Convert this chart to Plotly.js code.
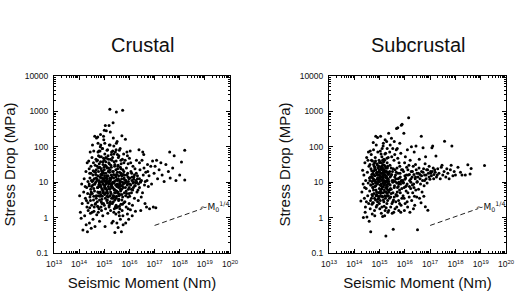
<!DOCTYPE html>
<html>
<head>
<meta charset="utf-8">
<script src="https://cdn.plot.ly/plotly-3.0.1.min.js"></script>
<style>
  html, body { margin: 0; padding: 0; background: #fff; }
  #chart { width: 516px; height: 298px; }
</style>
</head>
<body>
<div id="chart"></div>
<script>
// Earthquake source parameters: log10 of seismic moment (N·m) and log10 of stress drop (MPa)
const crustalLogMoment = [
  14.02,14.05,14.08,14.10,14.12,14.15,14.18,14.20,14.22,14.25,
  14.27,14.28,14.30,14.31,14.32,14.33,14.34,14.35,14.29,14.24,
  14.36,14.38,14.40,14.41,14.42,14.43,14.44,14.45,14.46,14.47,
  14.48,14.49,14.50,14.51,14.52,14.53,14.54,14.55,14.56,14.57,
  14.58,14.59,14.60,14.61,14.62,14.63,14.64,14.65,14.66,14.67,
  14.68,14.69,14.70,14.62,14.55,14.48,14.40,14.45,14.58,14.66,
  14.52,14.60,14.43,14.68,14.57,
  14.71,14.72,14.73,14.74,14.75,14.76,14.77,14.78,14.79,14.80,
  14.81,14.82,14.83,14.84,14.85,14.86,14.87,14.88,14.89,14.90,
  14.91,14.92,14.93,14.94,14.95,14.96,14.97,14.98,14.99,15.00,
  15.01,15.02,15.03,15.04,15.05,15.06,15.07,15.08,15.09,15.10,
  15.11,15.12,15.13,15.14,15.15,15.16,15.17,15.18,15.19,15.20,
  15.21,15.22,15.23,15.24,15.25,15.26,15.27,15.28,15.29,15.30,
  14.74,14.78,14.82,14.86,14.90,14.94,14.98,15.02,15.06,15.10,
  15.14,15.18,15.22,15.26,15.30,14.76,14.80,14.84,14.88,14.92,
  14.96,15.00,15.04,15.08,15.12,15.16,15.20,15.24,15.28,14.73,
  14.77,14.81,14.85,14.89,14.93,14.97,15.01,15.05,15.09,15.13,
  15.17,15.21,15.25,15.29,14.72,14.79,14.83,14.87,14.91,14.95,
  14.99,15.03,15.07,15.11,15.15,15.19,15.23,15.27,14.86,14.97,
  15.22,15.48,15.73,15.35,15.04,15.00,15.24,14.74,15.70,15.84,
  15.31,15.32,15.33,15.34,15.35,15.36,15.37,15.38,15.39,15.40,
  15.41,15.42,15.43,15.44,15.45,15.46,15.47,15.48,15.49,15.50,
  15.51,15.52,15.53,15.54,15.55,15.56,15.57,15.58,15.59,15.60,
  15.61,15.62,15.63,15.64,15.65,15.66,15.67,15.68,15.69,15.70,
  15.71,15.72,15.73,15.74,15.75,15.76,15.77,15.78,15.79,15.80,
  15.33,15.37,15.41,15.45,15.49,15.53,15.57,15.61,15.65,15.69,
  15.35,15.39,15.43,15.47,15.51,15.55,15.59,15.63,15.67,15.71,
  15.34,15.40,15.46,15.52,15.58,15.64,15.70,15.76,15.42,15.56,
  15.38,15.44,15.50,15.62,15.74,15.66,15.48,15.36,15.60,15.78,
  15.81,15.82,15.83,15.84,15.85,15.86,15.87,15.88,15.89,15.90,
  15.91,15.92,15.93,15.94,15.95,15.96,15.97,15.98,15.99,16.00,
  16.02,16.04,16.06,16.08,16.10,16.12,16.14,16.16,16.18,16.20,
  16.22,16.24,16.26,16.28,16.30,15.88,15.94,16.01,16.09,16.17,
  15.85,15.92,15.99,16.05,16.13,16.21,16.27,16.03,15.95,16.11,
  16.32,16.35,16.38,16.40,16.42,16.45,16.48,16.50,16.52,16.55,
  16.58,16.60,16.62,16.65,16.68,16.70,16.72,16.75,16.78,16.80,
  16.34,16.44,16.53,16.63,16.73,16.85,16.88,16.47,16.57,16.40,
  16.92,16.98,17.02,17.08,17.12,17.18,17.25,17.30,17.38,17.45,
  17.55,17.62,17.72,17.78,17.85,18.00,18.07,18.20,18.20,16.95,
  17.05,17.60,
  14.62,14.65,14.68,14.71,14.74,14.77,14.80,14.83,14.86,14.89,
  14.92,14.95,14.98,15.01,15.04,15.07,15.10,15.13,15.16,15.19,
  15.22,15.25,15.28,15.31,15.34,15.37,15.40,15.43,15.46,15.49,
  15.52,15.55,15.58,15.61,15.64,15.67,15.70,15.73,15.76,15.79,
  14.64,14.70,14.76,14.82,14.88,14.94,15.00,15.06,15.12,15.18,
  15.24,15.30,15.36,15.42,15.48,15.54,15.60,15.66,15.72,15.78,
  14.67,14.73,14.79,14.85,14.91,14.97,15.03,15.09,15.15,15.21,
  15.27,15.33,15.39,15.45,15.51,15.57,15.63,15.69,15.75,15.81,
  15.84,15.87,15.90,15.93,15.96,15.99,16.02,16.05,16.08,16.11,
  16.14,16.17,16.20,16.23,16.26,16.29,16.32,16.36,16.40,16.44,
  14.75,14.84,14.93,15.02,15.11,15.20,15.29,15.38,15.47,15.56,
  14.50,14.55,14.60,14.45,14.40,14.35,14.52,14.58,14.47,14.42
];
const crustalLogStress = [
  0.62,0.15,-0.02,0.95,0.40,-0.35,0.72,1.10,0.05,0.55,
  1.30,-0.20,0.85,0.30,1.55,-0.40,0.68,1.02,0.48,0.88,
  0.20,1.60,0.95,-0.15,1.25,0.58,1.85,0.12,0.80,1.45,
  -0.30,1.05,0.35,1.70,0.68,2.05,0.92,-0.05,1.32,0.50,
  1.88,0.18,1.10,0.75,2.30,-0.25,1.48,0.40,1.00,1.65,
  0.62,2.25,0.08,0.95,1.20,0.72,1.38,0.48,0.82,1.22,
  1.02,0.30,1.12,1.35,1.55,
  1.05,0.45,1.62,0.85,2.10,0.15,1.30,0.70,1.88,0.98,
  -0.10,1.42,0.60,1.15,2.35,0.88,0.30,1.72,1.02,0.52,
  1.25,1.95,0.78,0.05,1.50,1.08,0.40,2.20,0.92,1.35,
  0.65,1.80,-0.25,1.12,0.25,1.58,0.82,2.45,1.00,0.48,
  1.40,0.72,1.92,0.12,1.18,0.58,1.65,0.95,2.60,0.35,
  1.28,0.80,2.05,1.05,0.20,1.48,0.68,1.78,0.90,-0.15,
  1.18,0.92,1.00,1.22,0.82,1.30,1.05,0.90,1.25,0.78,
  1.02,1.32,0.62,1.10,0.85,0.62,1.52,0.72,1.38,0.60,
  0.75,1.62,0.55,1.45,1.10,0.88,1.52,0.45,1.20,0.32,
  1.75,0.50,1.58,0.20,1.12,1.68,1.18,0.70,1.68,0.42,
  1.40,0.98,1.65,0.55,1.45,0.25,1.88,1.12,0.40,0.95,
  1.42,0.82,1.05,0.60,1.75,0.30,1.35,0.95,2.05,2.30,
  3.06,2.98,3.03,2.68,2.60,2.47,2.42,2.28,2.31,2.21,
  1.15,0.40,1.70,0.85,-0.10,1.30,0.62,2.02,0.98,0.25,
  1.45,-0.42,0.78,1.85,1.05,0.10,1.60,0.55,1.22,0.88,
  2.15,0.30,1.38,0.72,-0.28,1.10,0.48,1.75,0.92,0.05,
  1.28,0.65,1.95,-0.05,1.02,0.38,1.52,-0.40,0.80,1.18,
  0.20,1.65,0.58,1.35,-0.20,0.95,1.80,0.42,1.08,0.70,
  1.00,1.12,0.70,0.92,0.60,1.05,0.85,0.98,0.75,1.10,
  0.55,1.58,1.20,0.35,0.95,1.48,0.62,0.88,1.25,0.90,
  1.88,0.78,1.35,1.78,0.15,1.42,0.50,1.20,0.50,0.68,
  0.15,0.30,-0.15,0.25,0.05,1.62,2.10,2.25,1.90,1.55,
  1.20,0.45,1.62,0.85,-0.15,1.05,0.30,1.40,0.68,1.85,
  0.92,0.10,1.25,0.58,1.52,0.80,-0.05,1.10,0.40,1.68,
  0.95,0.22,1.30,0.70,1.05,0.35,1.45,0.85,1.15,0.55,
  1.38,0.18,0.98,1.62,0.72,1.00,1.15,0.60,1.25,1.00,
  0.62,1.75,0.85,1.55,0.78,0.90,1.25,1.88,0.25,0.05,
  1.10,0.48,1.92,0.85,1.35,0.20,1.05,1.62,0.70,1.20,
  1.40,0.92,0.40,1.28,0.30,1.05,1.50,0.88,1.18,0.25,
  0.78,1.00,1.85,1.02,1.30,1.45,0.95,0.58,1.78,1.55,
  1.60,1.25,1.45,1.62,1.10,1.35,1.55,1.20,1.02,1.50,
  1.30,1.12,1.40,1.75,1.05,1.20,1.57,1.90,1.06,0.30,
  0.28,1.85,
  0.95,1.28,0.55,1.10,0.72,1.40,0.88,1.15,0.65,1.32,
  1.00,0.70,1.25,0.85,1.48,0.95,1.18,0.68,1.30,0.82,
  1.12,0.72,1.42,0.95,0.62,1.22,1.02,0.58,1.15,0.75,
  1.28,0.90,0.52,1.05,0.80,1.20,0.65,1.00,0.85,1.12,
  0.38,1.60,0.30,1.72,0.45,1.58,0.35,1.70,0.50,1.55,
  0.40,1.62,0.45,1.50,0.28,1.45,0.32,1.38,0.38,1.30,
  1.12,0.85,1.05,0.92,1.20,1.10,1.02,1.12,0.98,1.05,
  0.88,1.30,0.80,0.70,1.08,1.18,0.95,0.90,1.22,0.98,
  1.05,0.75,1.20,0.95,1.02,0.68,1.12,0.92,0.80,1.15,
  0.98,1.08,1.20,0.90,1.05,1.00,1.18,0.95,1.10,1.02,
  1.85,2.00,1.95,2.10,1.90,2.05,1.85,1.80,1.92,1.70,
  0.88,1.05,1.30,0.65,0.90,0.42,0.15,0.60,1.25,0.28
];

const subcrustalLogMoment = [
  14.26,14.30,14.33,14.35,14.38,14.40,14.42,14.44,14.45,14.47,
  14.49,14.50,14.52,14.53,14.55,14.56,14.57,14.58,14.59,14.60,
  14.36,14.43,14.48,14.54,14.41,
  14.61,14.62,14.63,14.64,14.65,14.66,14.67,14.68,14.69,14.70,
  14.71,14.72,14.73,14.74,14.75,14.76,14.77,14.78,14.79,14.80,
  14.81,14.82,14.83,14.84,14.85,14.86,14.87,14.88,14.89,14.90,
  14.91,14.92,14.93,14.94,14.95,14.62,14.66,14.70,14.74,14.78,
  14.82,14.86,14.90,14.94,14.64,14.68,14.72,14.76,14.80,14.84,
  14.88,14.92,14.92,14.75,14.85,14.70,14.63,14.81,14.87,14.93,
  14.96,14.97,14.98,14.99,15.00,15.01,15.02,15.03,15.04,15.05,
  15.06,15.07,15.08,15.09,15.10,15.11,15.12,15.13,15.14,15.15,
  15.16,15.17,15.18,15.19,15.20,15.21,15.22,15.23,15.24,15.25,
  15.26,15.27,15.28,15.29,15.30,15.31,15.32,15.33,15.34,15.35,
  14.98,15.02,15.06,15.10,15.14,15.18,15.22,15.26,15.30,15.34,
  15.00,15.04,15.08,15.12,15.16,15.20,15.24,15.28,15.32,14.97,
  15.01,15.05,15.09,15.13,15.17,15.21,15.25,15.29,15.33,14.99,
  15.03,15.07,15.11,15.15,15.19,15.23,15.27,15.31,15.35,15.09,
  15.13,15.17,15.21,15.25,15.29,15.06,15.14,15.22,15.30,15.36,
  15.04,15.18,15.26,15.02,15.10,15.28,15.20,15.12,15.32,15.16,
  15.37,15.39,15.41,15.43,15.45,15.47,15.49,15.51,15.53,15.54,
  15.55,15.57,15.59,15.61,15.63,15.65,15.67,15.69,15.71,15.72,
  15.73,15.75,15.77,15.79,15.81,15.83,15.85,15.86,15.87,15.89,
  15.38,15.42,15.46,15.50,15.54,15.58,15.62,15.66,15.70,15.74,
  15.78,15.82,15.86,15.40,15.44,15.48,15.52,15.56,15.60,15.64,
  15.68,15.72,15.76,15.80,15.84,15.88,15.42,15.58,15.66,15.36,
  15.40,15.46,15.52,15.60,15.68,15.76,15.84,15.50,15.70,15.80,
  15.91,15.93,15.95,15.96,15.97,15.99,16.01,16.03,16.05,16.07,
  16.09,16.11,16.13,16.15,16.17,16.19,16.21,16.23,16.25,16.27,
  16.29,16.31,16.33,16.35,16.37,16.39,16.41,16.43,16.45,16.47,
  16.49,15.94,16.00,16.06,16.12,16.18,16.24,16.30,16.36,16.42,
  16.48,16.02,16.10,16.20,16.26,16.34,16.44,15.98,16.16,16.38,
  16.50,16.52,16.54,16.56,16.58,16.60,16.62,16.65,16.66,16.68,
  16.70,16.72,16.74,16.76,16.78,16.80,16.81,16.84,16.86,16.88,
  16.91,16.93,16.96,16.99,17.02,17.05,17.07,17.10,17.12,17.15,
  16.64,16.75,16.57,16.82,17.18,
  17.23,17.25,17.30,17.35,17.40,17.44,17.47,17.50,17.55,17.57,
  17.62,17.66,17.70,17.75,17.80,17.83,17.86,17.90,17.95,18.00,
  18.10,18.20,18.26,18.39,18.49,18.58,18.62,19.15,
  14.70,14.74,14.78,14.82,14.86,14.90,14.94,14.98,15.02,15.06,
  15.10,15.14,15.18,15.22,15.26,15.30,15.34,15.38,15.42,15.46,
  14.72,14.76,14.80,14.84,14.88,14.92,14.96,15.00,15.04,15.08,
  15.12,15.16,15.20,15.24,15.28,15.32,15.36,15.40,15.44,15.48,
  15.52,15.58,15.64,15.70,15.76,15.82,15.88,15.94,16.00,16.06,
  16.12,16.18,16.24,16.30,16.36,16.42,16.48,16.54,16.60,16.66,
  14.98,15.03,15.08,15.13,15.18,15.23,15.28,15.33,14.88,14.93,
  14.65,14.69,14.73,14.77,14.81,14.85,14.89,14.93,14.97,15.01,
  16.72,16.78,16.84,16.90,16.96,17.02,17.08,17.14,17.20,17.28,
  15.55,15.61,15.67,15.73,15.79,15.85,15.91,15.97,16.03,16.09
];
const subcrustalLogStress = [
  0.47,0.72,1.34,0.95,1.20,0.55,1.55,0.30,1.05,0.82,
  1.70,0.02,1.28,0.62,0.98,1.85,0.40,1.45,-0.10,1.12,
  0.00,0.15,0.45,1.62,0.85,
  0.75,1.50,0.25,1.15,-0.40,0.92,1.78,0.55,1.32,1.02,
  0.10,1.60,0.85,1.25,0.42,1.92,1.08,0.68,1.45,0.20,
  1.18,0.88,1.70,0.50,1.35,1.00,2.05,0.72,1.52,0.35,
  1.22,0.95,1.85,0.60,1.40,1.05,1.38,0.65,0.95,1.20,
  1.42,0.62,1.08,1.28,0.48,1.62,1.12,0.78,1.55,0.98,
  1.25,0.45,2.26,2.12,2.30,0.38,1.88,0.05,0.30,1.12,
  1.05,0.55,1.62,0.82,1.30,0.25,1.15,1.88,0.68,1.42,
  0.95,0.12,1.25,1.72,0.60,1.08,0.03,1.50,0.88,2.10,
  1.20,0.45,1.35,0.78,1.62,0.98,0.20,1.15,1.82,-0.52,
  0.72,1.40,1.00,0.40,1.55,0.88,1.25,0.15,1.70,0.62,
  1.20,0.92,1.38,1.15,1.28,1.05,1.45,1.12,1.05,0.95,
  1.02,1.25,0.80,1.40,0.95,1.22,0.85,1.30,0.78,1.45,
  1.58,0.72,1.05,1.18,1.65,0.62,1.02,1.68,1.10,0.40,
  0.48,1.55,0.85,0.50,1.48,0.55,0.92,1.40,1.22,0.30,
  0.70,1.02,1.80,1.30,0.82,1.80,2.02,2.20,1.95,2.38,
  2.30,0.32,0.28,0.60,1.95,2.15,0.05,1.62,0.48,1.32,
  1.02,0.55,1.48,0.82,1.18,2.24,0.40,1.30,0.70,-0.33,
  1.05,1.62,0.90,0.25,1.20,0.65,2.52,1.40,0.85,2.54,
  1.10,0.48,1.55,0.78,1.25,0.95,0.35,2.61,1.35,2.64,
  1.25,0.92,0.68,1.05,1.38,0.58,1.02,1.28,0.62,0.88,
  1.12,0.70,1.05,1.85,0.30,1.72,1.95,0.15,1.78,0.45,
  0.98,1.68,0.20,1.45,1.82,0.55,2.05,2.15,1.92,0.20,
  0.78,1.40,0.45,1.15,0.30,1.00,0.15,0.12,1.95,2.10,
  1.05,0.62,1.30,2.38,0.85,1.55,0.40,1.12,0.75,1.42,
  0.95,0.30,1.20,2.82,0.58,1.05,1.62,0.82,1.30,0.48,
  1.15,0.70,1.45,0.95,1.85,0.35,1.10,0.78,1.35,0.58,
  1.02,1.00,1.18,0.90,1.35,0.88,1.10,0.92,1.22,1.50,
  1.25,1.72,1.92,0.15,2.00,0.25,2.02,0.20,1.48,0.60,
  -0.34,1.15,0.80,1.40,0.55,1.22,0.95,2.30,1.30,0.72,
  1.05,1.97,1.38,0.90,1.20,1.52,0.31,1.10,1.35,0.98,
  0.21,1.25,1.45,1.08,1.30,1.18,1.97,2.02,1.40,1.22,
  0.42,0.60,1.65,1.72,1.35,
  1.74,1.15,1.38,1.25,1.10,1.42,1.48,1.20,1.30,2.16,
  1.15,1.38,1.25,1.10,1.35,1.48,2.02,1.18,1.30,1.20,
  1.42,1.28,1.20,1.20,1.49,1.23,1.39,1.47,
  1.15,0.85,1.32,1.05,0.78,1.20,1.00,1.35,1.10,0.90,
  1.25,1.12,0.92,1.30,1.18,0.68,1.08,0.95,1.15,0.80,
  0.62,1.50,0.55,1.60,0.65,1.48,0.70,1.55,0.78,1.45,
  0.58,1.58,0.72,1.40,0.60,1.45,0.72,1.30,0.58,1.22,
  1.00,0.85,1.10,0.72,0.95,1.15,0.82,0.98,1.08,1.20,
  0.70,1.22,1.00,1.30,0.85,1.15,1.00,1.25,1.10,1.18,
  1.05,1.18,1.35,0.98,1.25,1.02,1.15,1.28,0.98,1.12,
  0.92,1.22,0.42,1.05,1.38,0.90,1.28,0.52,1.20,0.72,
  1.28,1.05,1.20,1.35,1.15,1.25,1.30,1.10,1.28,1.20,
  0.50,1.35,0.62,1.25,0.40,1.02,1.35,0.55,0.88,0.45
];

// Reference slope line: stress drop growing as M0^(1/4)
const guideMoment = [1e17, 8e18];
const guideStress = [0.6, 1.8];

const xTickVals = [1e13, 1e14, 1e15, 1e16, 1e17, 1e18, 1e19, 1e20];
const xTickText = ['10<sup>13</sup>','10<sup>14</sup>','10<sup>15</sup>','10<sup>16</sup>',
                   '10<sup>17</sup>','10<sup>18</sup>','10<sup>19</sup>','10<sup>20</sup>'];
const yTickVals = [0.1, 1, 10, 100, 1000, 10000];
const yTickText = ['0.1', '1', '10', '100', '1000', '10000'];

const pow10 = v => Math.pow(10, v);
const FONT = 'Liberation Sans, Arial, Helvetica, sans-serif';

function pointTrace(logM, logS, xa, ya) {
  return {
    type: 'scatter', mode: 'markers',
    x: logM.map(pow10), y: logS.map(pow10),
    xaxis: xa, yaxis: ya,
    marker: { color: '#000', size: 3, symbol: 'circle', line: { width: 0 } },
    hoverinfo: 'x+y', showlegend: false
  };
}
function guideTrace(xa, ya) {
  return {
    type: 'scatter', mode: 'lines',
    x: guideMoment, y: guideStress, xaxis: xa, yaxis: ya,
    line: { color: '#222', width: 1, dash: '5px,3px' },
    hoverinfo: 'skip', showlegend: false
  };
}

const data = [
  pointTrace(crustalLogMoment, crustalLogStress, 'x', 'y'),
  guideTrace('x', 'y'),
  pointTrace(subcrustalLogMoment, subcrustalLogStress, 'x2', 'y2'),
  guideTrace('x2', 'y2')
];

function xAxis(domain, anchor) {
  return {
    domain: domain, anchor: anchor, type: 'log', range: [13, 20],
    tickmode: 'array', tickvals: xTickVals, ticktext: xTickText,
    ticks: 'inside', ticklen: 4, tickwidth: 1, tickcolor: '#000',
    ticklabelstandoff: 3,
    minor: { ticks: 'inside', ticklen: 2, tickcolor: '#000', dtick: 'D1', showgrid: false },
    showline: true, linecolor: '#000', linewidth: 1, mirror: 'allticks',
    showgrid: false, zeroline: false,
    tickfont: { family: FONT, size: 8.5, color: '#111' },
    title: { text: 'Seismic Moment (Nm)', font: { family: FONT, size: 15, color: '#111' }, standoff: 9 },
    automargin: false
  };
}
function yAxis(domain, anchor) {
  return {
    domain: domain, anchor: anchor, type: 'log', range: [-1, 4],
    tickmode: 'array', tickvals: yTickVals, ticktext: yTickText,
    ticks: 'inside', ticklen: 4, tickwidth: 1, tickcolor: '#000',
    ticklabelstandoff: 3,
    minor: { ticks: 'inside', ticklen: 2, tickcolor: '#000', dtick: 'D1', showgrid: false },
    showline: true, linecolor: '#000', linewidth: 1, mirror: 'allticks',
    showgrid: false, zeroline: false,
    tickfont: { family: FONT, size: 8.5, color: '#111' },
    title: { text: 'Stress Drop (MPa)', font: { family: FONT, size: 15, color: '#111' }, standoff: 5 },
    automargin: false
  };
}

const yDom = [45 / 298, 222 / 298];
const layout = {
  width: 516, height: 298,
  margin: { l: 0, r: 0, t: 0, b: 0 },
  paper_bgcolor: '#fff', plot_bgcolor: '#fff',
  font: { family: FONT, color: '#111' },
  showlegend: false,
  xaxis: xAxis([54 / 516, 230 / 516], 'y'),
  yaxis: yAxis(yDom, 'x'),
  xaxis2: xAxis([329 / 516, 506 / 516], 'y2'),
  yaxis2: yAxis(yDom, 'x2'),
  annotations: [
    { text: 'Crustal', xref: 'paper', yref: 'paper', x: 142 / 516, y: (298 - 45) / 298,
      xanchor: 'center', yanchor: 'middle', showarrow: false,
      font: { family: FONT, size: 20, color: '#111' } },
    { text: 'Subcrustal', xref: 'paper', yref: 'paper', x: 418 / 516, y: (298 - 45) / 298,
      xanchor: 'center', yanchor: 'middle', showarrow: false,
      font: { family: FONT, size: 20, color: '#111' } },
    { text: '∼M<sub>0</sub><sup>1/4</sup>', xref: 'x', yref: 'y', x: 18.74, y: 0.30,
      xanchor: 'left', yanchor: 'middle', showarrow: false,
      font: { family: 'DejaVu Sans, ' + FONT, size: 9, color: '#111' } },
    { text: '∼M<sub>0</sub><sup>1/4</sup>', xref: 'x2', yref: 'y2', x: 18.74, y: 0.30,
      xanchor: 'left', yanchor: 'middle', showarrow: false,
      font: { family: 'DejaVu Sans, ' + FONT, size: 9, color: '#111' } }
  ]
};

Plotly.newPlot('chart', data, layout, { staticPlot: true, displayModeBar: false });
</script>
</body>
</html>
